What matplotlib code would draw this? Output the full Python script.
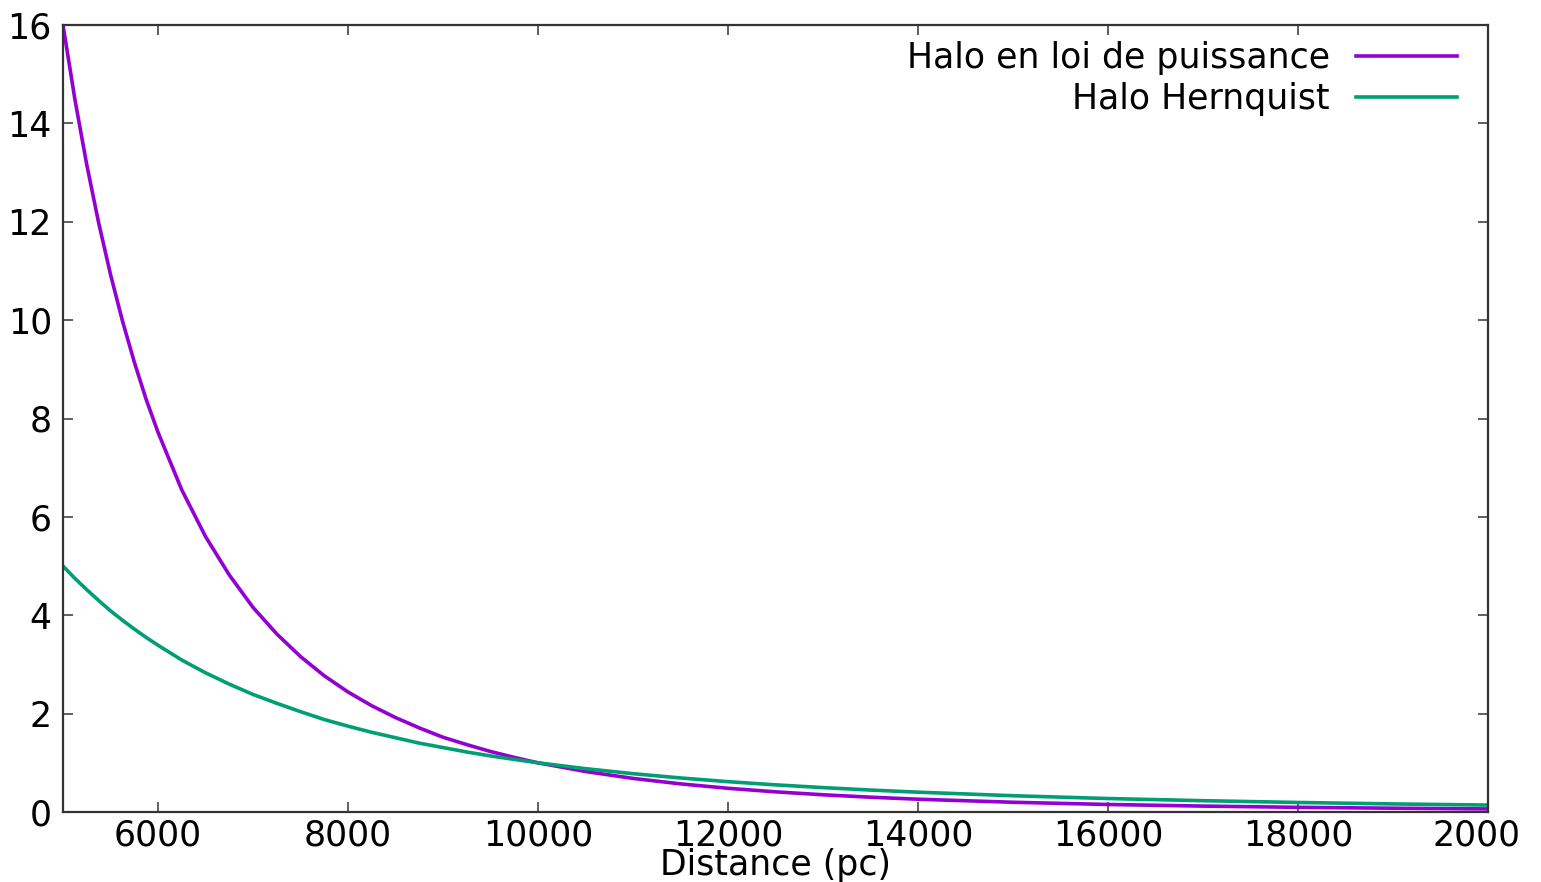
import numpy as np
import matplotlib.pyplot as plt
from matplotlib.patches import Rectangle

# distance (pc) and densities
distance = [5000, 5125, 5250, 5375, 5500, 5625, 5750, 5875, 6000, 6250, 6500, 6750,
            7000, 7250, 7500, 7750, 8000, 8250, 8500, 8750, 9000, 9250, 9500, 9750,
            10000, 10500, 11000, 11500, 12000, 12500, 13000, 13500, 14000, 15000,
            16000, 17000, 18000, 19000, 20000]
halo_puissance = [16.0, 14.49, 13.16, 11.98, 10.93, 9.99, 9.15, 8.39, 7.72, 6.55, 5.60, 4.82,
                  4.16, 3.62, 3.16, 2.77, 2.44, 2.16, 1.92, 1.71, 1.52, 1.37, 1.23, 1.11,
                  1.0, 0.823, 0.683, 0.572, 0.482, 0.410, 0.350, 0.301, 0.260, 0.198,
                  0.153, 0.120, 0.095, 0.077, 0.0625]
halo_hernquist = [5.0, 4.75, 4.52, 4.30, 4.09, 3.90, 3.72, 3.55, 3.39, 3.09, 2.83, 2.60,
                  2.39, 2.21, 2.04, 1.88, 1.745, 1.62, 1.51, 1.40, 1.31, 1.22, 1.14, 1.07,
                  1.0, 0.881, 0.779, 0.692, 0.617, 0.552, 0.496, 0.446, 0.403, 0.331,
                  0.274, 0.230, 0.194, 0.164, 0.141]

xticks = [6000, 8000, 10000, 12000, 14000, 16000, 18000, 20000]
yticks = [0, 2, 4, 6, 8, 10, 12, 14, 16]

plt.rcParams['font.family'] = ['DejaVu Sans']

fig = plt.figure(figsize=(15.41, 8.82), dpi=100)
ax = fig.add_axes([63 / 1541, 70 / 882, (1488 - 63) / 1541, (812 - 25) / 882])

ax.plot(distance, halo_puissance, color='#9400D3', lw=2.6, label='Halo en loi de puissance')
ax.plot(distance, halo_hernquist, color='#009E73', lw=2.6, label='Halo Hernquist')

ax.set_xlim(5000, 20000)
ax.set_ylim(0, 16)
ax.set_xticks(xticks)
ax.set_yticks(yticks)
ax.tick_params(direction='in', length=7, width=1.2, color='#444444', labelsize=25,
               top=True, right=True)
ax.tick_params(axis='x', pad=5)
ax.tick_params(axis='y', pad=8)
for s in ax.spines.values():
    s.set_linewidth(1.6)
    s.set_color('#333333')

fig.text(776 / 1541, 7 / 882, 'Distance (pc)', fontsize=25, ha='center', va='baseline')

leg = ax.legend(loc='upper right', frameon=False, fontsize=25, markerfirst=False,
                handlelength=2.9, handletextpad=0.75, borderaxespad=0, borderpad=0,
                labelspacing=0.22, bbox_to_anchor=(0.978, 0.980))
for t in leg.get_texts():
    t.set_ha('right')

# reference image is cropped at the right edge
fig.patches.append(Rectangle((1518 / 1541, 0), 1, 1, transform=fig.transFigure,
                             color='white', zorder=10))

fig.savefig('out.png', dpi=100)
